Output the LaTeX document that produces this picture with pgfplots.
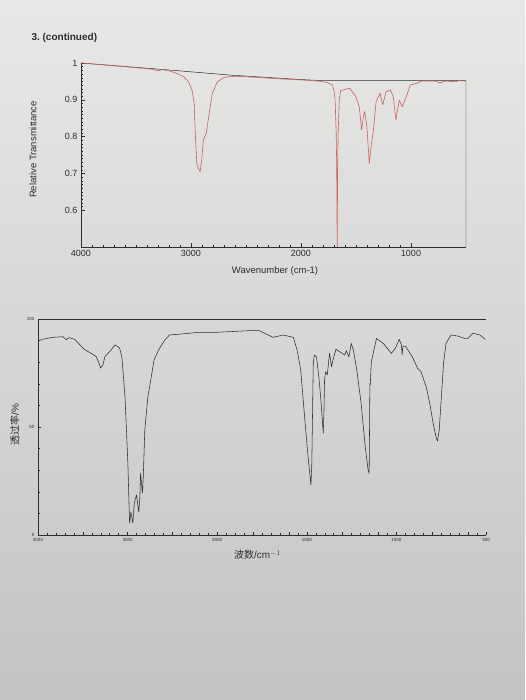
\documentclass[border=0pt]{standalone}
\usepackage{pgfplots}
\pgfplotsset{compat=1.18}
\usepackage{fontspec}
\setmainfont{Liberation Sans}
\newfontfamily\cjk{Noto Sans CJK SC}
\definecolor{papertop}{RGB}{232,232,230}
\definecolor{paperbot}{RGB}{196,196,199}
\definecolor{ink}{RGB}{45,45,48}
\definecolor{specred}{RGB}{205,95,95}
\begin{document}
\begin{tikzpicture}
\shade[top color=papertop, bottom color=paperbot] (0pt,0pt) rectangle (525pt,700pt);
\useasboundingbox (0pt,0pt) rectangle (525pt,700pt);
\node[anchor=west, text=ink, font=\fontsize{10}{12}\selectfont\bfseries] at (28pt,662pt) {3.\ (continued)};

% ---------------- top spectrum ----------------
\begin{axis}[at={(81pt,453pt)}, anchor=south west, width=385pt, height=184pt, scale only axis,
  xmin=500, xmax=4000, x dir=reverse, ymin=0.5, ymax=1,
  axis x line*=bottom, axis y line*=left,
  axis line style={ink, line width=0.5pt},
  xtick={4000,3000,2000,1000}, minor x tick num=9,
  ytick={0.6,0.7,0.8,0.9,1}, minor y tick num=9,
  tick align=inside, major tick length=4pt, minor tick length=2pt,
  tick style={ink, line width=0.4pt},
  tick label style={font=\fontsize{9}{10}\selectfont, text=ink},
  /pgf/number format/assume math mode=true,
  /pgf/number format/1000 sep={},
  scaled ticks=false,
  xlabel={Wavenumber (cm-1)}, ylabel={Relative Transmittance},
  label style={font=\fontsize{9.5}{11}\selectfont, text=ink},
  xlabel style={at={(axis description cs:0.504,-0.13)}, anchor=center},
  ylabel style={at={(axis description cs:-0.125,0.53)}, anchor=center},
]
\addplot[ink, line width=0.5pt] coordinates {
 (4000,1.0) (3200,0.981) (2640,0.967) (2000,0.955) (1800,0.952) (1000,0.952) (500,0.952) (500,0.5)};
\addplot[specred, line width=0.6pt, line join=round] coordinates {
 (4000,1.0) (3600,0.990) (3350,0.983) (3300,0.979) (3260,0.982) (3193,0.978) (3130,0.972)
 (3068,0.963) (3023,0.949) (2991,0.927) (2971,0.890) (2961,0.809) (2947,0.727) (2930,0.712)
 (2917,0.705) (2902,0.736) (2888,0.790) (2861,0.809) (2839,0.854) (2806,0.918) (2760,0.949)
 (2697,0.961) (2600,0.964) (2400,0.961) (2200,0.957) (2000,0.954) (1850,0.951) (1760,0.947)
 (1715,0.940) (1700,0.925) (1690,0.900) (1680,0.810) (1675,0.710) (1671,0.490) (1667,0.710)
 (1662,0.810) (1652,0.900) (1640,0.925) (1589,0.929) (1557,0.931) (1530,0.920) (1500,0.908)
 (1470,0.881) (1449,0.818) (1435,0.850) (1422,0.868) (1401,0.827) (1379,0.727) (1360,0.780)
 (1345,0.809) (1317,0.895) (1282,0.918) (1257,0.886) (1226,0.922) (1188,0.927) (1161,0.908)
 (1137,0.845) (1107,0.899) (1079,0.881) (1044,0.908) (1006,0.940) (936,0.946) (904,0.951)
 (781,0.951) (735,0.946) (689,0.951) (596,0.949) (566,0.952) (500,0.951)};
\end{axis}

% ---------------- bottom spectrum ----------------
\begin{axis}[at={(38pt,165pt)}, anchor=south west, width=448pt, height=216pt, scale only axis,
  x coord trafo/.code={\pgfmathparse{#1>=2000 ? (4000-#1)/1000 : 2+(2000-#1)/500}},
  x coord inv trafo/.code={\pgfmathparse{#1<=2 ? 4000-1000*#1 : 2000-500*(#1-2)}},
  xmin=4000, xmax=500, ymin=0, ymax=100,
  axis x line*=bottom, axis y line*=left,
  axis line style={ink, line width=0.5pt},
  xtick={4000,3000,2000,1500,1000,500},
  xticklabels={4000,3000,2000,1500,1000,500},
  extra x ticks={3500,2500,1800,1600,1300,1100,800,600},
  extra x tick labels={},
  minor xtick={3900,3800,...,2100,1950,1900,...,550},
  ytick={0,50,100}, minor y tick num=4,
  tick align=inside, major tick length=3pt, minor tick length=1.5pt,
  tick style={ink, line width=0.4pt},
  tick label style={font=\fontsize{4.5}{5}\selectfont, text=ink},
  /pgf/number format/assume math mode=true,
  /pgf/number format/1000 sep={},
  scaled ticks=false,
  xlabel={{\cjk 波数}/cm$^{-1}$}, ylabel={{\cjk 透过率}/\%},
  label style={font=\fontsize{10}{12}\selectfont, text=ink},
  xlabel style={at={(axis description cs:0.49,-0.093)}, anchor=center},
  ylabel style={at={(axis description cs:-0.052,0.51)}, anchor=center},
]
\draw[ink, line width=0.5pt] (axis description cs:0,1) -- (axis description cs:1,1);
\addplot[ink, line width=0.55pt, line join=round] coordinates {
 (4000,89.8) (3948,90.6) (3837,91.5) (3723,91.8) (3683,90.4) (3654,91.4) (3590,90.6)
 (3486,86.0) (3407,84.1) (3350,82.6) (3325,80.2) (3302,77.3) (3276,78.7) (3253,82.6)
 (3200,84.9) (3140,88.0) (3090,86.6) (3064,82.5) (3029,64.0) (2997,33.3) (2978,5.5)
 (2963,10.6) (2942,5.5) (2925,14.8) (2901,18.5) (2875,10.6) (2863,17.6) (2855,28.7)
 (2835,19.4) (2825,26.9) (2808,48.6) (2774,63.9) (2747,70.4) (2705,81.0) (2655,85.6)
 (2585,90.3) (2531,92.6) (2439,92.9) (2211,93.8) (2022,93.8) (1822,94.6) (1765,94.6)
 (1689,91.5) (1632,92.6) (1575,91.5) (1554,85.6) (1534,76.4) (1514,56.3) (1493,36.3)
 (1477,23.1) (1472,33.2) (1468,56.3) (1464,79.5) (1458,83.3) (1446,82.5) (1431,71.8)
 (1420,61.0) (1408,47.1) (1404,57.9) (1401,71.8) (1395,75.6) (1386,74.1) (1373,84.1)
 (1362,77.9) (1354,81.0) (1337,86.0) (1308,84.4) (1288,83.3) (1280,85.3) (1265,82.5)
 (1252,88.7) (1240,85.6) (1221,76.4) (1197,61.0) (1174,40.9) (1158,30.1) (1152,28.5)
 (1150,48.6) (1148,70.2) (1146,69.4) (1140,80.2) (1111,91.0) (1073,88.7) (1028,84.1)
 (1006,86.4) (984,90.6) (972,88.0) (968,83.3) (964,87.2) (950,87.5) (930,84.9)
 (911,82.5) (882,77.2) (863,75.6) (834,68.7) (814,61.0) (795,51.7) (779,45.5)
 (771,43.5) (761,48.6) (749,64.0) (737,79.5) (723,88.7) (695,92.6) (657,92.1)
 (620,91.0) (601,91.0) (572,93.4) (534,92.6) (505,90.6)};
\end{axis}
\end{tikzpicture}
\end{document}
